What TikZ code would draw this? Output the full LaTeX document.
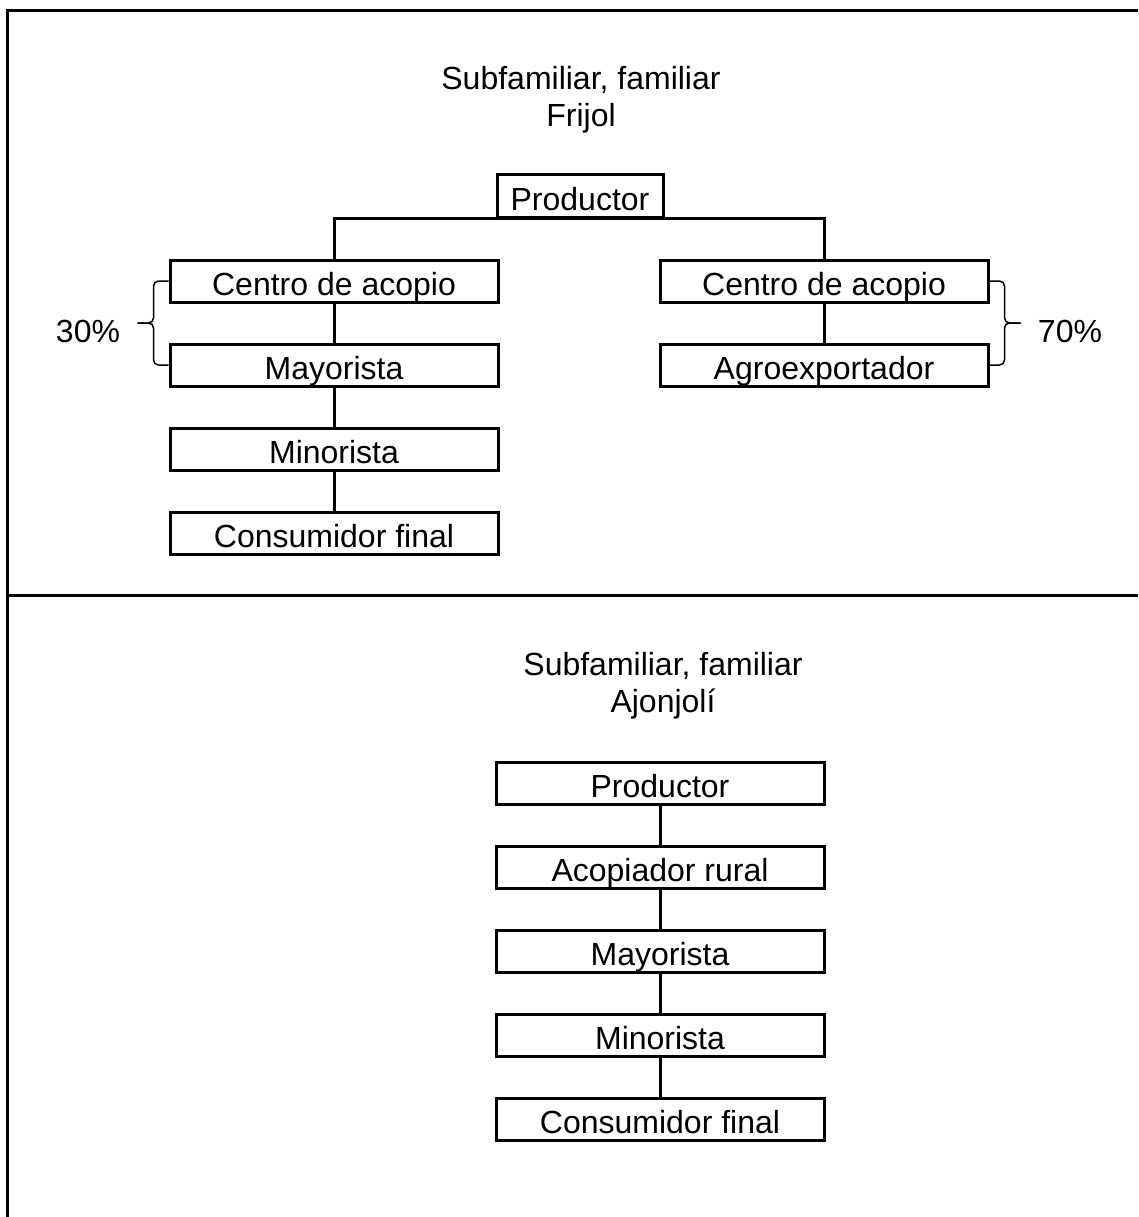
\documentclass[tikz,border=0pt]{standalone}
\usepackage{fontspec}
\setmainfont{Liberation Sans}
\usetikzlibrary{positioning}

\begin{document}
\begin{tikzpicture}[x=1pt, y=-1pt,
	etapa/.style={rectangle, draw=black, line width=3pt, inner sep=0pt, minimum width=328pt, text height=35pt, text depth=7pt, font=\fontsize{32}{37}\selectfont},
	titulo/.style={anchor=base, inner sep=0pt, font=\fontsize{32}{37}\selectfont},
	linea/.style={line width=3pt},
	llave/.style={line width=1.5pt, rounded corners=5pt},
	node distance=84pt, on grid]
		\useasboundingbox (0,0) rectangle (1138,1217);

		% marco
		\draw[linea] (7,1217) -- (7,11) -- (1138,11);
		\draw[linea] (7,595) -- (1138,595);

		% Frijol
		\node[titulo] (t1) at (581,90) {Subfamiliar, familiar};
		\node[titulo] (t1b) at (581,127) {Frijol};
		\node[etapa, minimum width=166pt] (prod) at (580,196) {Productor};
		\node[etapa] (c1) at (334,281) {Centro de acopio};
		\node[etapa] (m1) [below=of c1] {Mayorista};
		\node[etapa] (n1) [below=of m1] {Minorista};
		\node[etapa] (f1) [below=of n1] {Consumidor final};
		\node[etapa] (c2) [right=490pt of c1] {Centro de acopio};
		\node[etapa] (a2) [below=of c2] {Agroexportador};

		\draw[linea] (c1.north) |- (prod.south) -| (c2.north);
		\path[linea]
			(c1) edge (m1)
			(m1) edge (n1)
			(n1) edge (f1)
			(c2) edge (a2);

		\draw[llave] (c1.west) -- ++(-15,0) -- ++(0,42) -- ++(-16,0);
		\draw[llave] (m1.west) -- ++(-15,0) -- ++(0,-42) -- ++(-16,0);
		\draw[llave] (c2.east) -- ++(15,0) -- ++(0,42) -- ++(16,0);
		\draw[llave] (a2.east) -- ++(15,0) -- ++(0,-42) -- ++(16,0);
		\node[titulo] (p30) at (88,342) {30\%};
		\node[titulo] (p70) at (1070,342) {70\%};

		% Ajonjoli
		\node[titulo] (t2) at (663,675) {Subfamiliar, familiar};
		\node[titulo] (t2b) at (663,712) {Ajonjolí};
		\node[etapa] (p2) at (660,783) {Productor};
		\node[etapa] (r2) [below=of p2] {Acopiador rural};
		\node[etapa] (m2) [below=of r2] {Mayorista};
		\node[etapa] (n2) [below=of m2] {Minorista};
		\node[etapa] (f2) [below=of n2] {Consumidor final};

		\path[linea]
			(p2) edge (r2)
			(r2) edge (m2)
			(m2) edge (n2)
			(n2) edge (f2);
	\end{tikzpicture}
\end{document}
